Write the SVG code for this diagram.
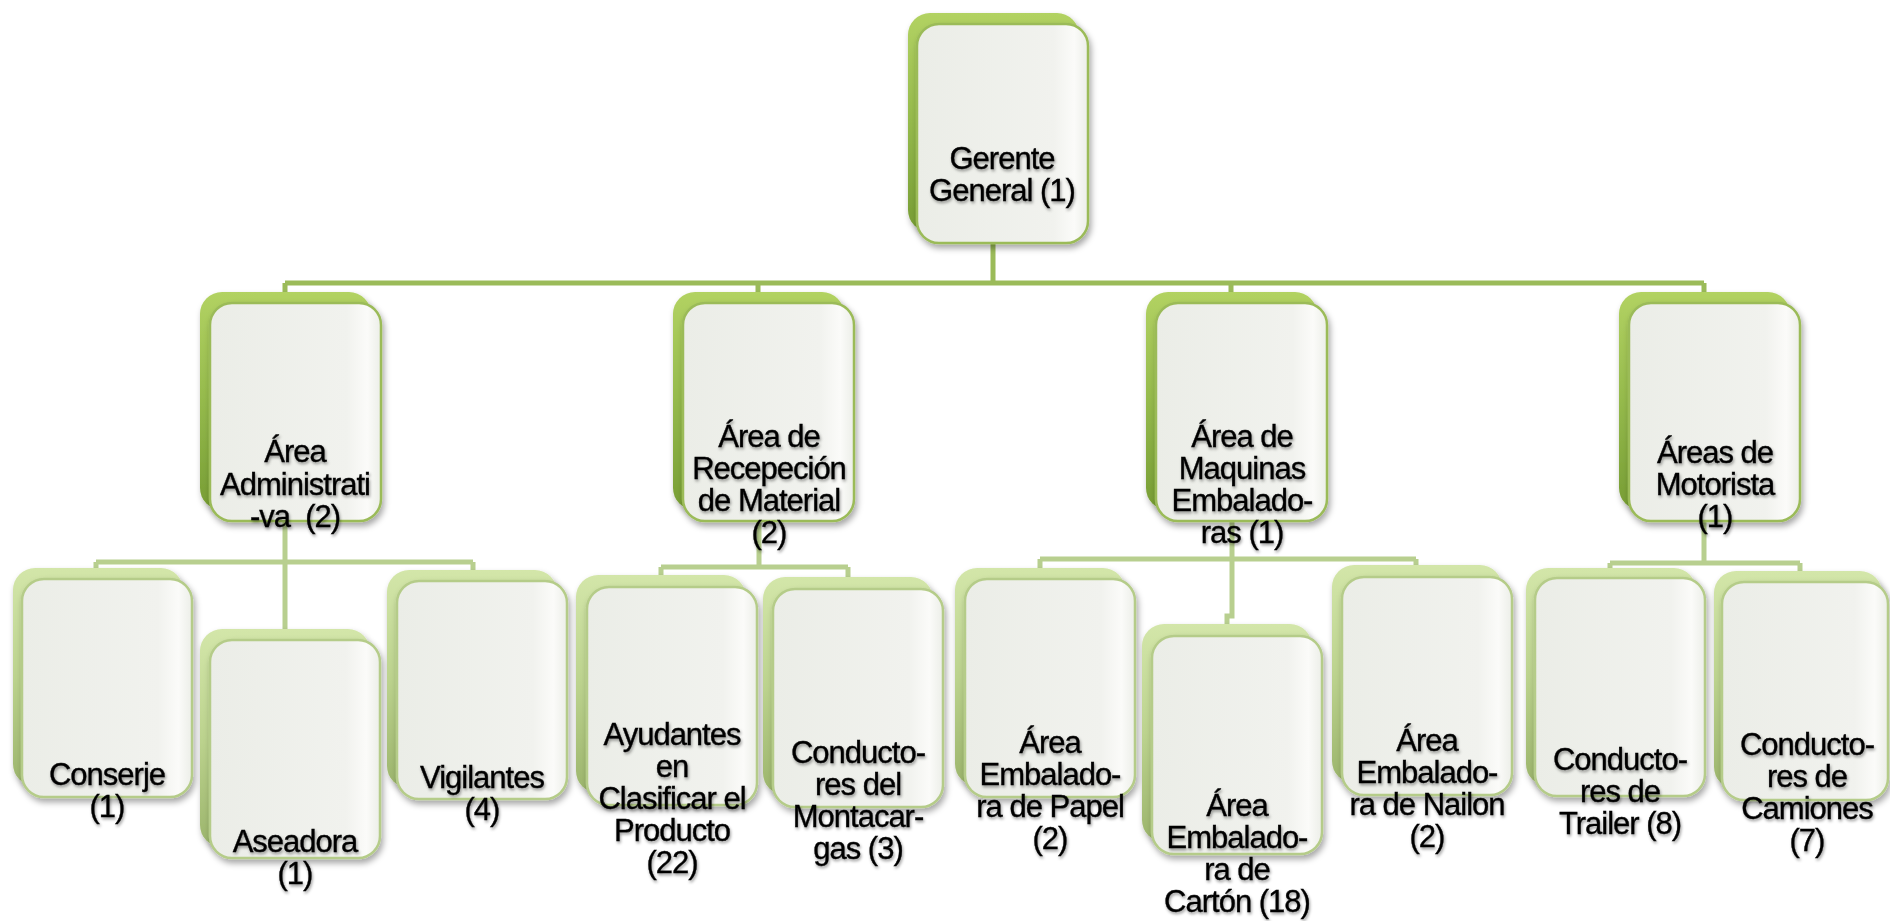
<svg xmlns="http://www.w3.org/2000/svg" width="1890" height="921" viewBox="0 0 1890 921">
  <defs>
    <linearGradient id="gBack12" x1="0" y1="0" x2="0" y2="1">
      <stop offset="0" stop-color="#b2d262"/>
      <stop offset="0.5" stop-color="#95ba4c"/>
      <stop offset="1" stop-color="#779d34"/>
    </linearGradient>
    <linearGradient id="gBack3" x1="0" y1="0" x2="0" y2="1">
      <stop offset="0" stop-color="#d3e6a9"/>
      <stop offset="0.5" stop-color="#bcd38e"/>
      <stop offset="1" stop-color="#9cb56c"/>
    </linearGradient>
    <linearGradient id="gFront" x1="0" y1="0" x2="1" y2="0">
      <stop offset="0" stop-color="#ebede7"/>
      <stop offset="0.8" stop-color="#f1f2ee"/>
      <stop offset="0.92" stop-color="#fbfbf9"/>
      <stop offset="1" stop-color="#eceee8"/>
    </linearGradient>
    <filter id="shadow" x="-10%" y="-10%" width="125%" height="125%">
      <feDropShadow dx="2" dy="4" stdDeviation="3" flood-color="#000" flood-opacity="0.35"/>
    </filter>
    <filter id="tshadow" x="-10%" y="-20%" width="120%" height="150%">
      <feDropShadow dx="1" dy="2" stdDeviation="1.8" flood-color="#000" flood-opacity="0.4"/>
    </filter>
  </defs>
  <style>
    .back12 { fill: url(#gBack12); filter: url(#shadow); }
    .back3 { fill: url(#gBack3); filter: url(#shadow); }
    .front12 { fill: url(#gFront); stroke: #9bbb59; stroke-width: 2.5; filter: url(#shadow); }
    .front3 { fill: url(#gFront); stroke: #b5cc89; stroke-width: 2.5; filter: url(#shadow); }
    .lbl { font-family: "Liberation Sans", Arial, sans-serif; font-size: 31px; letter-spacing: -1px; fill: #000; stroke: #000; stroke-width: 0.35px; text-anchor: middle; filter: url(#tshadow); }
    .c12 { fill: none; stroke: #9bbb59; stroke-width: 5; }
    .c3 { fill: none; stroke: #b8cf8f; stroke-width: 5; }
  </style>
  <rect width="1890" height="921" fill="#ffffff"/>

  <g id="connectors">
    <path class="c12" d="M993,236 V283 M285,283 H1704 M285,283 V296 M758,283 V296 M1231,283 V296 M1704,283 V296"/>
    <path class="c3" d="M285,515 V632 M96,562 H473 M96,562 V572 M473,562 V574"/>
    <path class="c3" d="M759,515 V567 M661,567 H848 M661,567 V579 M848,567 V581"/>
    <path class="c3" d="M1232,515 V616 H1227 V628 M1040,559 H1416 M1040,559 V572 M1416,559 V569"/>
    <path class="c3" d="M1704,515 V563 M1610,563 H1800 M1610,563 V572 M1800,563 V575"/>
  </g>

  <g id="node-gerente">
    <rect class="back12" x="908" y="13" width="171" height="219" rx="22"/>
    <rect class="front12" x="917" y="24" width="171" height="219" rx="22"/>
    <text class="lbl"><tspan x="1002" y="169">Gerente</tspan><tspan x="1002" y="201">General (1)</tspan></text>
  </g>

  <g id="node-administrativa">
    <rect class="back12" x="200" y="292" width="171" height="218" rx="22"/>
    <rect class="front12" x="210" y="303" width="171" height="218" rx="22"/>
    <text class="lbl" xml:space="preserve"><tspan x="295" y="462">Área</tspan><tspan x="295" y="495">Administrati</tspan><tspan x="295" y="527">-va  (2)</tspan></text>
  </g>

  <g id="node-recepcion">
    <rect class="back12" x="673" y="292" width="171" height="218" rx="22"/>
    <rect class="front12" x="683" y="303" width="171" height="218" rx="22"/>
    <text class="lbl"><tspan x="769" y="447">Área de</tspan><tspan x="769" y="479">Recepeción</tspan><tspan x="769" y="511">de Material</tspan><tspan x="769" y="543">(2)</tspan></text>
  </g>

  <g id="node-maquinas">
    <rect class="back12" x="1146" y="292" width="171" height="218" rx="22"/>
    <rect class="front12" x="1156" y="303" width="171" height="218" rx="22"/>
    <text class="lbl"><tspan x="1242" y="447">Área de</tspan><tspan x="1242" y="479">Maquinas</tspan><tspan x="1242" y="511">Embalado-</tspan><tspan x="1242" y="543">ras (1)</tspan></text>
  </g>

  <g id="node-motorista">
    <rect class="back12" x="1619" y="292" width="171" height="218" rx="22"/>
    <rect class="front12" x="1629" y="303" width="171" height="218" rx="22"/>
    <text class="lbl"><tspan x="1715" y="463">Áreas de</tspan><tspan x="1715" y="495">Motorista</tspan><tspan x="1715" y="527">(1)</tspan></text>
  </g>

  <g id="node-conserje">
    <rect class="back3" x="13" y="568" width="170" height="218" rx="22"/>
    <rect class="front3" x="22" y="579" width="170" height="218" rx="22"/>
    <text class="lbl"><tspan x="107" y="785">Conserje</tspan><tspan x="107" y="817">(1)</tspan></text>
  </g>

  <g id="node-aseadora">
    <rect class="back3" x="200" y="629" width="170" height="218" rx="22"/>
    <rect class="front3" x="210" y="640" width="170" height="218" rx="22"/>
    <text class="lbl"><tspan x="295" y="852">Aseadora</tspan><tspan x="295" y="884">(1)</tspan></text>
  </g>

  <g id="node-vigilantes">
    <rect class="back3" x="387" y="570" width="170" height="218" rx="22"/>
    <rect class="front3" x="397" y="581" width="170" height="218" rx="22"/>
    <text class="lbl"><tspan x="482" y="788">Vigilantes</tspan><tspan x="482" y="820">(4)</tspan></text>
  </g>

  <g id="node-ayudantes">
    <rect class="back3" x="576" y="575" width="170" height="218" rx="22"/>
    <rect class="front3" x="587" y="587" width="170" height="218" rx="22"/>
    <text class="lbl"><tspan x="672" y="745">Ayudantes</tspan><tspan x="672" y="777">en</tspan><tspan x="672" y="809">Clasificar el</tspan><tspan x="672" y="841">Producto</tspan><tspan x="672" y="873">(22)</tspan></text>
  </g>

  <g id="node-montacargas">
    <rect class="back3" x="763" y="577" width="170" height="218" rx="22"/>
    <rect class="front3" x="773" y="589" width="170" height="218" rx="22"/>
    <text class="lbl"><tspan x="858" y="763">Conducto-</tspan><tspan x="858" y="795">res del</tspan><tspan x="858" y="827">Montacar-</tspan><tspan x="858" y="859">gas (3)</tspan></text>
  </g>

  <g id="node-papel">
    <rect class="back3" x="955" y="568" width="170" height="218" rx="22"/>
    <rect class="front3" x="965" y="579" width="170" height="218" rx="22"/>
    <text class="lbl"><tspan x="1050" y="753">Área</tspan><tspan x="1050" y="785">Embalado-</tspan><tspan x="1050" y="817">ra de Papel</tspan><tspan x="1050" y="849">(2)</tspan></text>
  </g>

  <g id="node-carton">
    <rect class="back3" x="1142" y="624" width="170" height="218" rx="22"/>
    <rect class="front3" x="1152" y="636" width="170" height="218" rx="22"/>
    <text class="lbl"><tspan x="1237" y="816">Área</tspan><tspan x="1237" y="848">Embalado-</tspan><tspan x="1237" y="880">ra de</tspan><tspan x="1237" y="912">Cartón (18)</tspan></text>
  </g>

  <g id="node-nailon">
    <rect class="back3" x="1332" y="565" width="170" height="218" rx="22"/>
    <rect class="front3" x="1342" y="577" width="170" height="218" rx="22"/>
    <text class="lbl"><tspan x="1427" y="751">Área</tspan><tspan x="1427" y="783">Embalado-</tspan><tspan x="1427" y="815">ra de Nailon</tspan><tspan x="1427" y="847">(2)</tspan></text>
  </g>

  <g id="node-trailer">
    <rect class="back3" x="1526" y="568" width="170" height="218" rx="22"/>
    <rect class="front3" x="1535" y="578" width="170" height="218" rx="22"/>
    <text class="lbl"><tspan x="1620" y="770">Conducto-</tspan><tspan x="1620" y="802">res de</tspan><tspan x="1620" y="834">Trailer (8)</tspan></text>
  </g>

  <g id="node-camiones">
    <rect class="back3" x="1714" y="571" width="168" height="218" rx="22"/>
    <rect class="front3" x="1722" y="582" width="166" height="218" rx="22"/>
    <text class="lbl"><tspan x="1807" y="755">Conducto-</tspan><tspan x="1807" y="787">res de</tspan><tspan x="1807" y="819">Camiones</tspan><tspan x="1807" y="851">(7)</tspan></text>
  </g>
</svg>
